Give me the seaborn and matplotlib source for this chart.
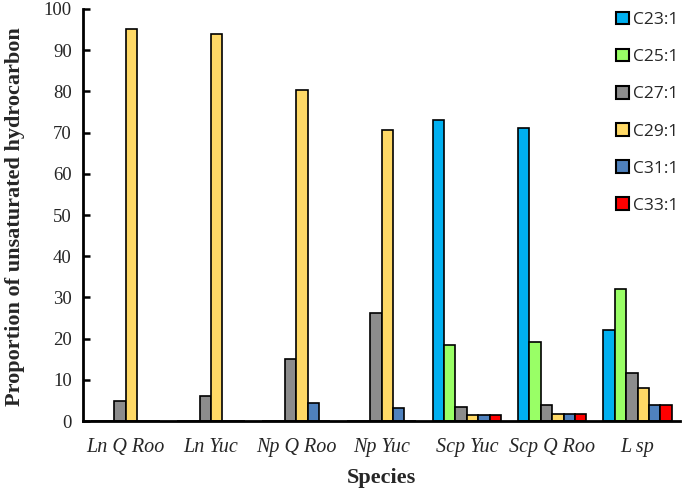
import matplotlib
matplotlib.use("Agg")
import matplotlib.pyplot as plt
import seaborn as sns
import pandas as pd
import numpy as np

species = ["Ln Q Roo", "Ln Yuc", "Np Q Roo", "Np Yuc", "Scp Yuc", "Scp Q Roo", "L sp"]
compounds = ["C23:1", "C25:1", "C27:1", "C29:1", "C31:1", "C33:1"]
c23 = [0, 0, 0, 0, 73.0, 71.2, 22.0]
c25 = [0, 0, 0, 0, 18.5, 19.2, 32.0]
c27 = [5.0, 6.0, 15.0, 26.3, 3.4, 3.8, 11.8]
c29 = [95.0, 93.8, 80.3, 70.5, 1.5, 1.8, 8.0]
c31 = [0, 0, 4.5, 3.2, 1.5, 1.8, 3.8]
c33 = [0, 0, 0, 0, 1.5, 1.8, 3.8]
colors = ["#00B0F0", "#99FF66", "#8C8C8C", "#FFD966", "#4F81BD", "#FF0000"]

rows = []
for comp, vals in zip(compounds, [c23, c25, c27, c29, c31, c33]):
    for sp, v in zip(species, vals):
        rows.append({"Species": sp, "Compound": comp, "Value": v})
df = pd.DataFrame(rows)

sns.set_style("white")
fig = plt.figure(figsize=(6.85, 4.92), dpi=100)
ax = fig.add_axes([0.121, 0.144, 0.872, 0.838])
sns.barplot(data=df, x="Species", y="Value", hue="Compound", order=species,
            hue_order=compounds, palette=colors, saturation=1, edgecolor="black",
            linewidth=1.2, width=0.8, errorbar=None, ax=ax)

ax.set_ylim(0, 100)
ax.set_xlim(-0.5, 6.5)
ax.set_yticks(np.arange(0, 101, 10))
ax.set_yticklabels([str(v) for v in range(0, 101, 10)], fontfamily="Liberation Serif", fontsize=13.5)
ax.set_xticks(range(len(species)))
ax.set_xticklabels(species, fontfamily="Liberation Serif", fontstyle="italic", fontsize=14.5)
ax.tick_params(axis="x", which="major", length=0, pad=12)
ax.set_xticks(np.arange(-0.5, 7.0, 1.0), minor=True)
ax.tick_params(axis="x", which="minor", direction="in", length=5, width=1.8, color="black")
ax.tick_params(axis="y", which="major", direction="in", length=5, width=1.8, color="black",
               left=True, pad=8)

for s in ["top", "right"]:
    ax.spines[s].set_visible(False)
for s in ["left", "bottom"]:
    ax.spines[s].set_color("black")
    ax.spines[s].set_linewidth(2.0)

ax.set_xlabel("Species", fontfamily="Liberation Serif", fontweight="bold", fontsize=16)
ax.xaxis.set_label_coords(0.5, -0.114)
ax.set_ylabel("Proportion of unsaturated hydrocarbon", fontfamily="Liberation Serif",
              fontweight="bold", fontsize=16)
ax.yaxis.set_label_coords(-0.097, 0.495)

leg = ax.legend(loc="upper left", bbox_to_anchor=(616 / 685, 1 - 12 / 492),
                bbox_transform=fig.transFigure, frameon=False,
                prop={"family": "Open Sans", "size": 12.5}, handlelength=0.72,
                handleheight=0.72, labelspacing=1.2, handletextpad=0.25,
                borderpad=0, borderaxespad=0)
for h in leg.legend_handles:
    h.set_edgecolor("black")
    h.set_linewidth(1.5)

fig.savefig("out.png", dpi=100)
